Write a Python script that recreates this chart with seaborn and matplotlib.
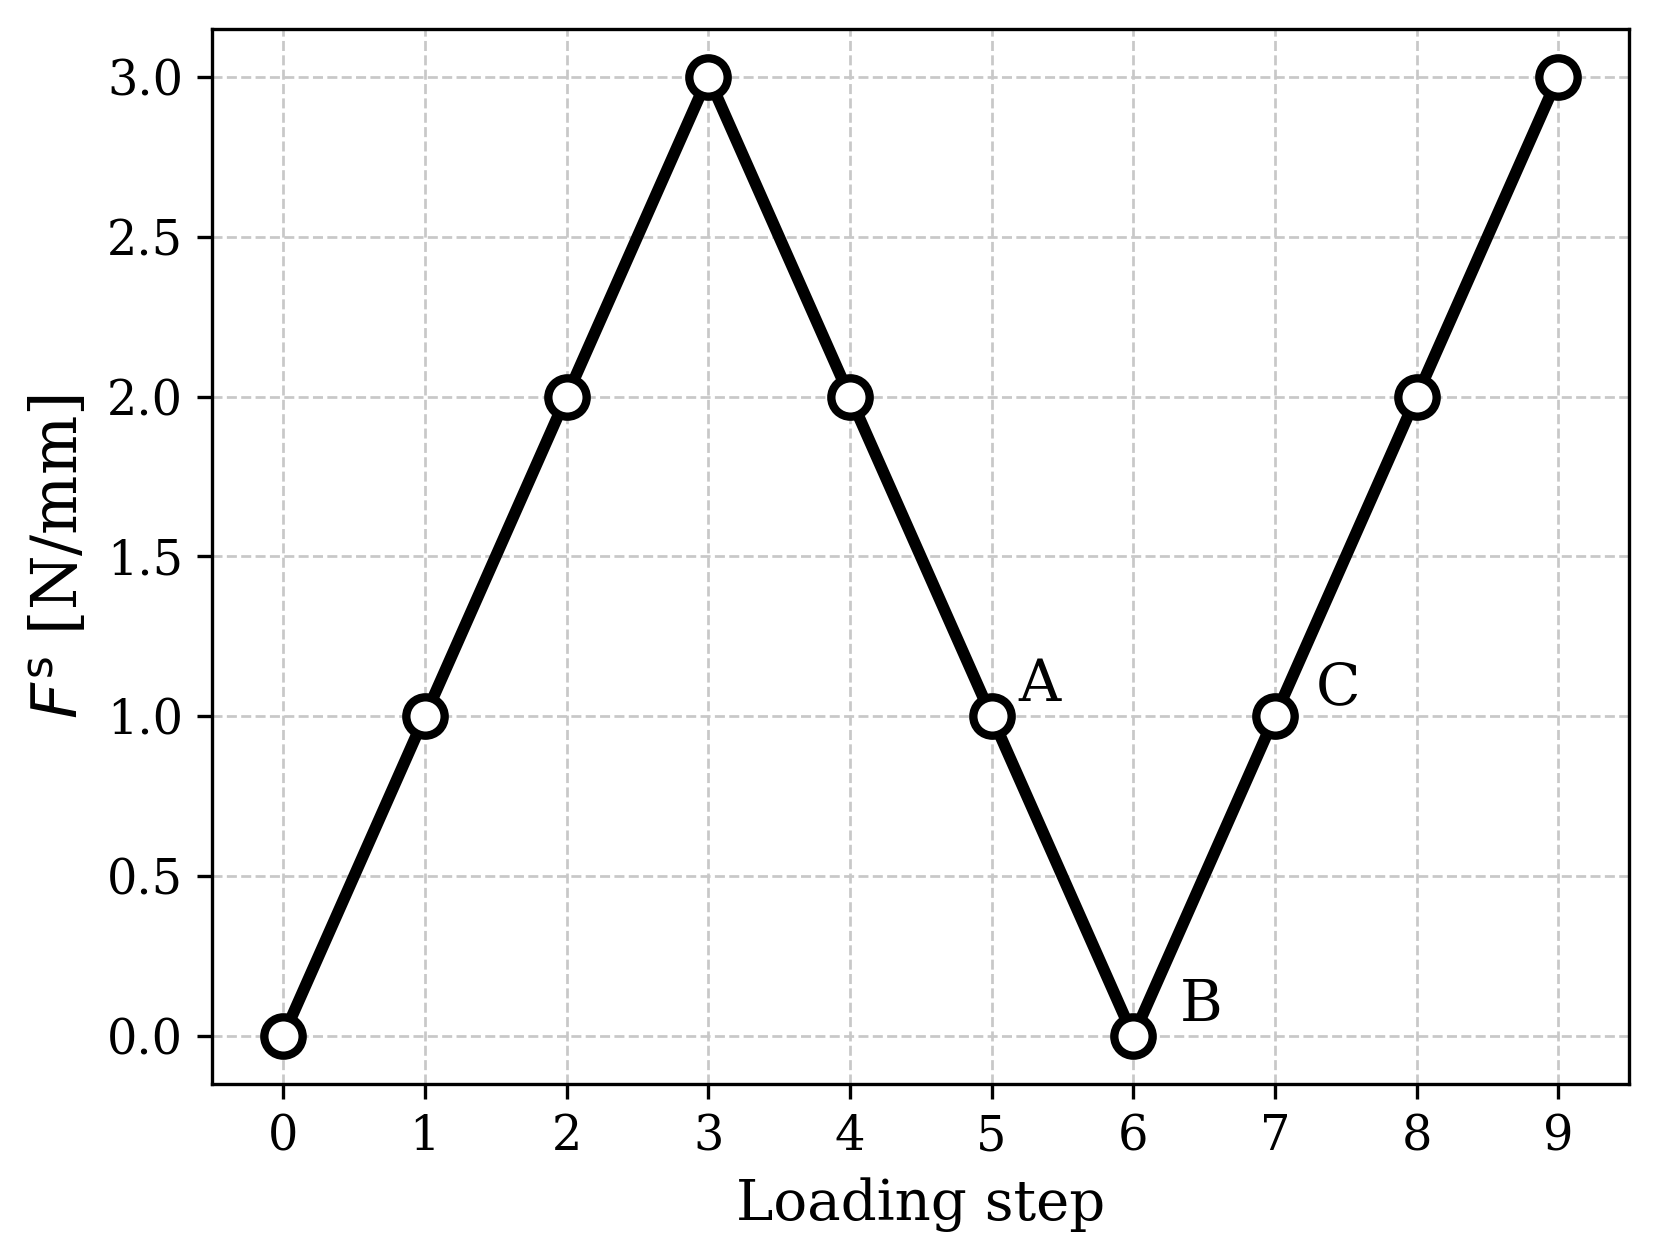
import numpy as np
import pandas as pd
import seaborn as sns
import matplotlib.pyplot as plt

# Loading history values
steps = [0, 1, 2, 3, 4, 5, 6, 7, 8, 9]
force = [0.0, 1.0, 2.0, 3.0, 2.0, 1.0, 0.0, 1.0, 2.0, 3.0]

# Labelled points and where their text sits relative to the point
point_labels = ['A', 'B', 'C']
point_steps = [5, 6, 7]
label_dx = [0.19, 0.33, 0.29]
label_dy = [0.01, 0.01, 0.0]

sns.set_style('ticks')
plt.rcParams['font.family'] = ['DejaVu Serif']
plt.rcParams['mathtext.fontset'] = 'dejavusans'
for key in ['text.color', 'axes.labelcolor', 'xtick.color', 'ytick.color', 'axes.edgecolor']:
    plt.rcParams[key] = 'black'

df = pd.DataFrame({'step': steps, 'force': force})

fig, ax = plt.subplots(figsize=(1659 / 300, 1259 / 300), dpi=300)
fig.subplots_adjust(left=0.128, right=0.982, top=0.977, bottom=0.139)

sns.lineplot(data=df, x='step', y='force', ax=ax, color='black', lw=2.8,
             marker='o', markersize=9.2, markerfacecolor='white',
             markeredgecolor='black', markeredgewidth=2.0, zorder=3)

# Put the letters next to the points:
for lab, s, dx, dy in zip(point_labels, point_steps, label_dx, label_dy):
    ax.text(s + dx, force[s] + dy, lab, fontsize=14, ha='left', va='bottom')

ax.set_xlim(-0.5, 9.5)
ax.set_xticks(steps)
ax.set_yticks(np.arange(0, 3.01, 0.5))
ax.set_xlabel('Loading step', fontsize=13.5)
ax.set_ylabel(r'$F^{\mathrm{s}}$ [N/mm]', fontsize=15)
ax.tick_params(labelsize=11.5)
# Add a weak dashed grid to the plot:
ax.grid(True, linestyle='--', linewidth=0.65, color='#c8c8c8')
ax.set_axisbelow(True)
for sp in ax.spines.values():
    sp.set_linewidth(0.8)

fig.savefig('out.png', dpi=300)
